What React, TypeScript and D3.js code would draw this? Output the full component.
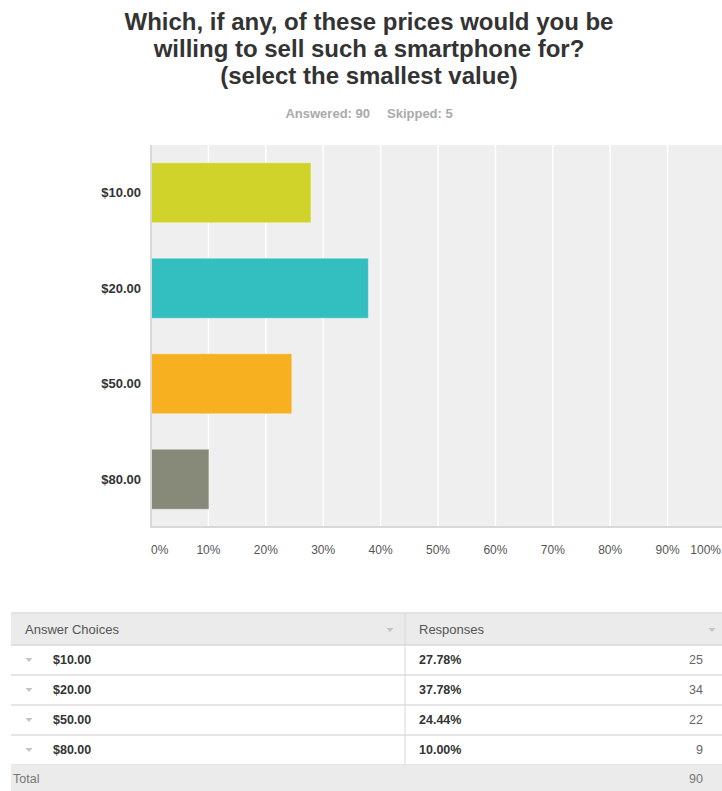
import React from "react";
import * as d3 from "d3";

const categories = ["$10.00", "$20.00", "$50.00", "$80.00"];
const percents = [27.78, 37.78, 24.44, 10.0];
const counts = [25, 34, 22, 9];
const total = 90;
const colors = ["#d0d42a", "#33bec0", "#f6b020", "#878a78"];
const xTicks = [0, 10, 20, 30, 40, 50, 60, 70, 80, 90, 100];
const titleLines = [
  "Which, if any, of these prices would you be",
  "willing to sell such a smartphone for?",
  "(select the smallest value)",
];
const answered = 90;
const skipped = 5;

const W = 722;
const H = 791;
const FONT = "'Liberation Sans', Arial, Helvetica, sans-serif";

export default function App() {
  const plot = { left: 151, right: 725, top: 145, bottom: 527 };
  const x = d3.scaleLinear().domain([0, 100]).range([plot.left, plot.right]);
  const y = d3
    .scaleBand<string>()
    .domain(categories)
    .range([plot.top, plot.bottom])
    .paddingInner(0.372)
    .paddingOuter(0.186);

  const table = { left: 11, right: 730, top: 613, headerH: 32, rowH: 30, divider: 405 };
  const rowY = (i: number) => table.top + table.headerH + i * table.rowH;
  const totalY = rowY(categories.length);

  const tri = (cx: number, cy: number, w = 8, h = 4.5) =>
    `M${cx - w / 2},${cy - h / 2}L${cx + w / 2},${cy - h / 2}L${cx},${cy + h / 2}Z`;

  return (
    <svg
      width={W}
      height={H}
      style={{ position: "absolute", left: 0, top: 0, background: "#fff" }}
      fontFamily={FONT}
    >
      {/* Title */}
      {titleLines.map((t, i) => (
        <text
          key={t}
          x={369}
          y={30 + i * 27}
          textAnchor="middle"
          fontSize={24}
          fontWeight="bold"
          fill="#333"
        >
          {t}
        </text>
      ))}
      <text x={370} y={118} textAnchor="end" fontSize={13} fontWeight="bold" fill="#aaaaaa">
        {`Answered: ${answered}`}
      </text>
      <text x={387} y={118} textAnchor="start" fontSize={13} fontWeight="bold" fill="#aaaaaa">
        {`Skipped: ${skipped}`}
      </text>

      {/* Plot background */}
      <rect
        x={plot.left}
        y={plot.top}
        width={plot.right - plot.left}
        height={plot.bottom - plot.top}
        fill="#efefef"
      />
      {xTicks.slice(1).map((t) => (
        <line
          key={t}
          x1={x(t)}
          x2={x(t)}
          y1={plot.top}
          y2={plot.bottom}
          stroke="#ffffff"
          strokeWidth={1.5}
        />
      ))}
      {/* Bars */}
      {categories.map((c, i) => (
        <rect
          key={c}
          x={x(0) + 0.5}
          y={y(c)!}
          width={x(percents[i]) - x(0)}
          height={y.bandwidth()}
          fill={colors[i]}
          stroke="rgba(255,255,255,0.35)"
          strokeWidth={1}
        />
      ))}
      {/* Axis lines */}
      <line x1={plot.left} x2={plot.left} y1={plot.top} y2={plot.bottom + 1} stroke="#d8d8d8" strokeWidth={2} />
      <line x1={plot.left} x2={W} y1={plot.bottom} y2={plot.bottom} stroke="#d8d8d8" strokeWidth={2} />

      {/* Y labels */}
      {categories.map((c) => (
        <text
          key={c}
          x={141}
          y={y(c)! + y.bandwidth() / 2}
          dy="0.35em"
          textAnchor="end"
          fontSize={13}
          fontWeight="bold"
          fill="#333"
        >
          {c}
        </text>
      ))}
      {/* X labels */}
      {xTicks.map((t, i) => (
        <text
          key={t}
          x={i === 0 ? x(t) : i === xTicks.length - 1 ? W - 1 : x(t)}
          y={554}
          textAnchor={i === 0 ? "start" : i === xTicks.length - 1 ? "end" : "middle"}
          fontSize={12}
          fill="#555"
        >
          {`${t}%`}
        </text>
      ))}

      {/* Table */}
      <rect x={table.left} y={table.top} width={table.right - table.left} height={table.headerH} fill="#ebebeb" />
      <line x1={table.left} x2={table.right} y1={table.top} y2={table.top} stroke="#dcdcdc" strokeWidth={1.5} />
      <line x1={table.left} x2={table.right} y1={table.top + table.headerH} y2={table.top + table.headerH} stroke="#d8d8d8" strokeWidth={1.5} />
      <text x={25} y={table.top + 21} fontSize={13} fill="#555">
        Answer Choices
      </text>
      <text x={419} y={table.top + 21} fontSize={13} fill="#555">
        Responses
      </text>
      <path d={tri(390, table.top + 17, 7, 4)} fill="#c4c4c4" />
      <path d={tri(712, table.top + 17, 7, 4)} fill="#c4c4c4" />
      <line
        x1={table.divider}
        x2={table.divider}
        y1={table.top}
        y2={totalY}
        stroke="#d8d8d8"
        strokeWidth={1}
      />
      {categories.map((c, i) => {
        const ry = rowY(i);
        const cy = ry + table.rowH / 2;
        return (
          <g key={c}>
            <line x1={table.left} x2={table.right} y1={ry + table.rowH} y2={ry + table.rowH} stroke="#dcdcdc" strokeWidth={1.5} />
            <path d={tri(29, cy, 7, 4)} fill="#c4c4c4" />
            <text x={53} y={cy} dy="0.35em" fontSize={12.5} fontWeight="bold" fill="#333">
              {c}
            </text>
            <text x={419} y={cy} dy="0.35em" fontSize={12.5} fontWeight="bold" fill="#333">
              {`${percents[i].toFixed(2)}%`}
            </text>
            <text x={703} y={cy} dy="0.35em" textAnchor="end" fontSize={12.5} fill="#666">
              {counts[i]}
            </text>
          </g>
        );
      })}
      <rect x={table.left} y={totalY} width={table.right - table.left} height={H - totalY} fill="#ebebeb" />
      <text x={13} y={totalY + 14} dy="0.35em" fontSize={12.5} fill="#777">
        Total
      </text>
      <text x={703} y={totalY + 14} dy="0.35em" textAnchor="end" fontSize={12.5} fill="#777">
        {total}
      </text>
    </svg>
  );
}
